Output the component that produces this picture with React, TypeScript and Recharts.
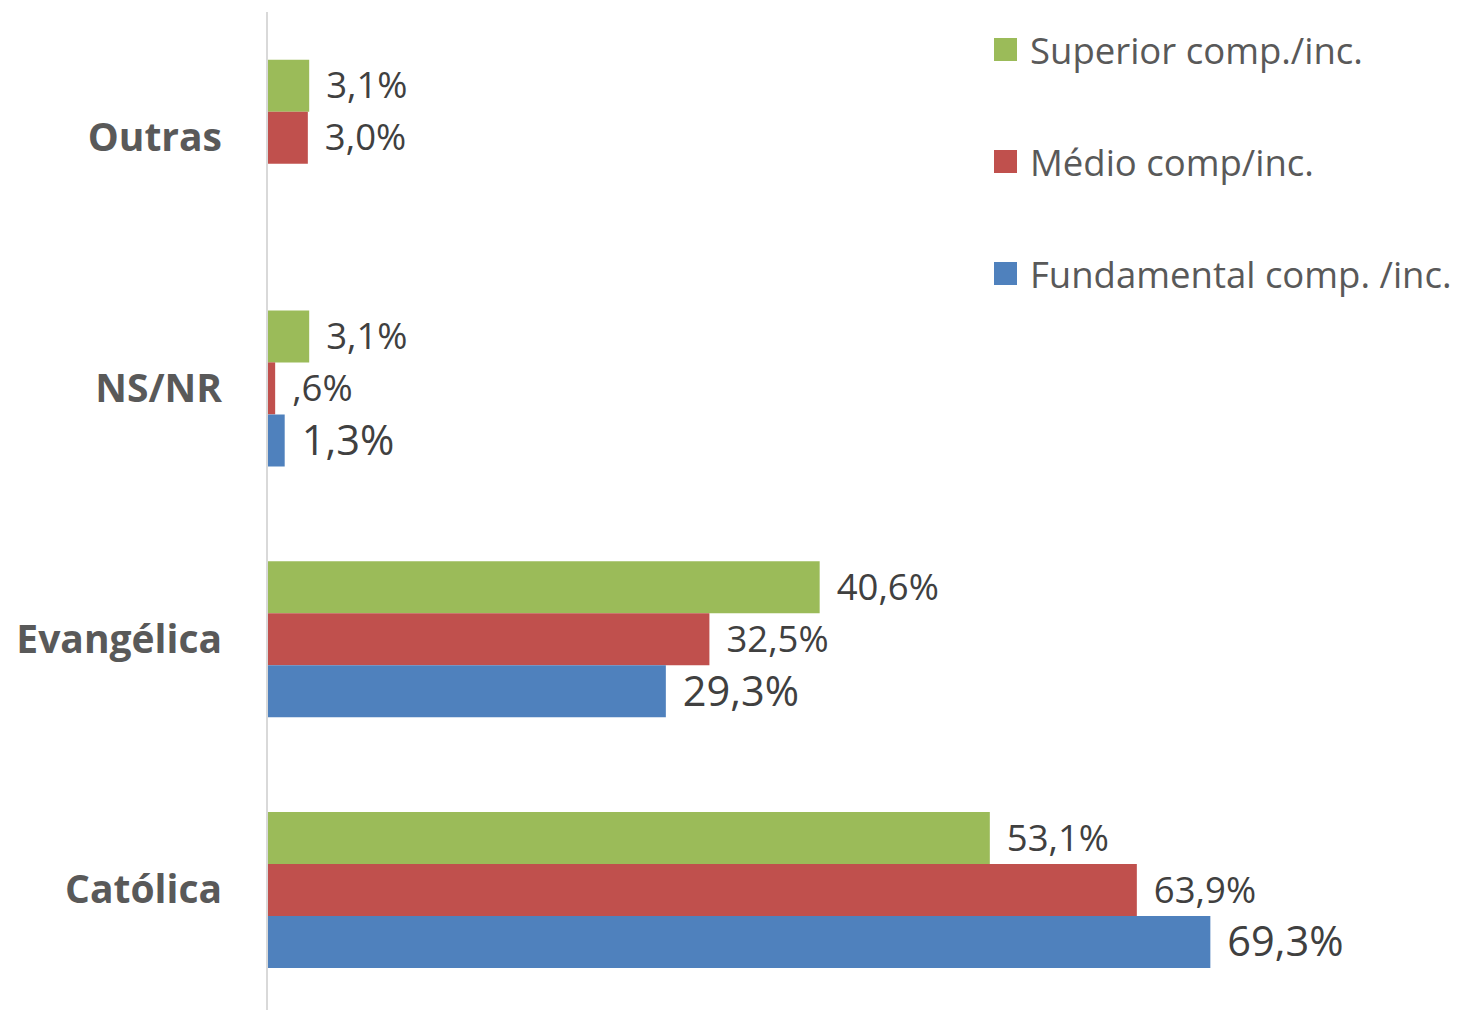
import React from "react";
import { BarChart, Bar, XAxis, YAxis, LabelList } from "recharts";

const categories = ["Outras", "NS/NR", "Evangélica", "Católica"];
const superior = [3.1, 3.1, 40.6, 53.1];
const medio = [3.0, 0.6, 32.5, 63.9];
const fundamental: (number | null)[] = [null, 1.3, 29.3, 69.3];

const seriesNames = ["Superior comp./inc.", "Médio comp/inc.", "Fundamental comp. /inc."];
const colors = ["#9BBB59", "#C0504D", "#4F81BD"];

const data = categories.map((name, i) => ({
  name,
  superior: superior[i],
  medio: medio[i],
  fundamental: fundamental[i],
}));

const FONT = "'Open Sans', sans-serif";

const fmt = (v: number) => {
  let s = v.toFixed(1).replace(".", ",");
  if (s.startsWith("0,")) s = s.slice(1);
  return s + "%";
};

const makeLabel = (size: number) => (props: any) => {
  const { x, y, width, height, value } = props;
  if (value === null || value === undefined) return null;
  return (
    <text
      x={x + width + 17}
      y={y + height / 2}
      dy="0.35em"
      fontSize={size}
      fontFamily={FONT}
      fill="#404040"
    >
      {fmt(value)}
    </text>
  );
};

const CategoryTick = (props: any) => {
  const { x, y, payload } = props;
  return (
    <text
      x={x - 37}
      y={y}
      dy="0.35em"
      textAnchor="end"
      fontSize={39}
      fontWeight="bold"
      fontFamily={FONT}
      fill="#595959"
    >
      {payload.value}
    </text>
  );
};

export default function App() {
  return (
    <div style={{ position: "relative", width: 1467, height: 1010, overflow: "hidden", background: "#fff" }}>
      <style>{`body{margin:0}`}</style>
      <BarChart
        width={1467}
        height={1015}
        data={data}
        layout="vertical"
        barCategoryGap="19%"
        barGap={0}
        margin={{ top: 12, right: 111, bottom: 0, left: 0 }}
      >
        <XAxis type="number" domain={[0, 80]} hide />
        <YAxis
          type="category"
          dataKey="name"
          width={267}
          axisLine={{ stroke: "#D9D9D9", strokeWidth: 2 }}
          tickLine={false}
          tick={<CategoryTick />}
        />
        <Bar dataKey="superior" fill={colors[0]} isAnimationActive={false}>
          <LabelList dataKey="superior" content={makeLabel(36.5)} />
        </Bar>
        <Bar dataKey="medio" fill={colors[1]} isAnimationActive={false}>
          <LabelList dataKey="medio" content={makeLabel(36.5)} />
        </Bar>
        <Bar dataKey="fundamental" fill={colors[2]} isAnimationActive={false}>
          <LabelList dataKey="fundamental" content={makeLabel(41.5)} />
        </Bar>
      </BarChart>
      {seriesNames.map((s, i) => (
        <div
          key={s}
          style={{
            position: "absolute",
            left: 994,
            top: 38 + i * 112,
            height: 23,
            display: "flex",
            alignItems: "center",
            whiteSpace: "nowrap",
            fontFamily: FONT,
            fontSize: 36.5,
            color: "#595959",
          }}
        >
          <span style={{ width: 23, height: 23, background: colors[i], marginRight: 13, flex: "none" }} />
          {s}
        </div>
      ))}
    </div>
  );
}
